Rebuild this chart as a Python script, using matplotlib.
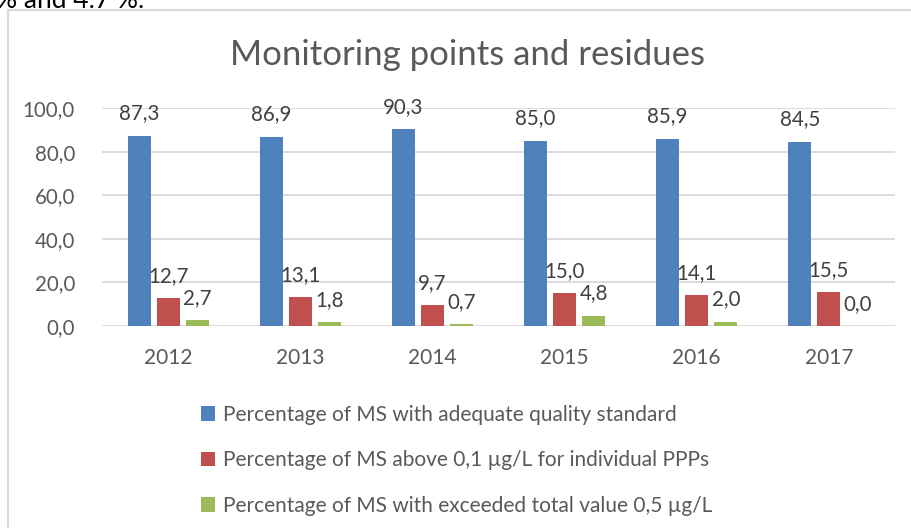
import matplotlib
matplotlib.use("Agg")
import matplotlib.pyplot as plt
import numpy as np
from matplotlib.patches import Rectangle

years = ["2012", "2013", "2014", "2015", "2016", "2017"]
adequate = [87.3, 86.9, 90.3, 85.0, 85.9, 84.5]
above_individual = [12.7, 13.1, 9.7, 15.0, 14.1, 15.5]
exceeded_total = [2.7, 1.8, 0.7, 4.8, 2.0, 0.0]
series_names = [
    "Percentage of MS with adequate quality standard",
    "Percentage of MS above 0,1 µg/L for individual PPPs",
    "Percentage of MS with exceeded total value 0,5 µg/L",
]
colors = ["#4F81BD", "#C0504D", "#9BBB59"]
yticks = [0, 20, 40, 60, 80, 100]

plt.rcParams['font.family'] = ['Lato', 'DejaVu Sans']
txt = "#595959"

W, H = 912, 528
fig = plt.figure(figsize=(W/100, H/100), dpi=100)
ax = fig.add_axes([102/W, 1-326/H, (895-102)/W, (326-108)/H])

x = np.arange(len(years))
bw = 0.174
step = 0.22
for i, (vals, c) in enumerate(zip([adequate, above_individual, exceeded_total], colors)):
    pos = x + (i-1)*step
    ax.bar(pos, vals, width=bw, color=c, label=series_names[i], zorder=3)
    for p, v in zip(pos, vals):
        ax.annotate(f"{v:.1f}".replace('.', ','), (p, v), xytext=(0, 16),
                    textcoords='offset points', ha='center', va='center',
                    fontsize=14.8, color="#404040", zorder=4)

ax.set_xlim(-0.5, len(years)-0.5)
ax.set_ylim(0, 100)
ax.set_yticks(yticks)
ax.set_yticklabels([f"{t:.1f}".replace('.', ',') for t in yticks], fontsize=14.8, color=txt)
ax.set_xticks(x)
ax.set_xticklabels(years, fontsize=15, color=txt)
ax.tick_params(length=0)
ax.tick_params(axis='y', pad=19.5)
ax.tick_params(axis='x', pad=16)
ax.grid(axis='y', color='#D9D9D9', linewidth=1.3, zorder=0)
for s in ax.spines.values():
    s.set_visible(False)

fig.text(467.5/W, 1-55/H, "Monitoring points and residues", ha='center', va='center',
         fontsize=25, color=txt)

# legend
handles, labels = ax.get_legend_handles_labels()
leg = fig.legend(handles, labels, loc='upper left', bbox_to_anchor=(182/W, 1-386/H),
                 frameon=False, fontsize=15, handlelength=0.7, handleheight=0.7,
                 handletextpad=0.35, labelspacing=1.22, labelcolor=txt)

# chart frame
fig.patches.append(Rectangle((8/W, -0.1), 1.2, 1 - 10/H + 0.1, transform=fig.transFigure,
                             fill=False, edgecolor='#D9D9D9', linewidth=1.5))

fig.text(-0.004, 1-8/H, "% and 4.7 %.", ha='left', va='baseline', fontsize=19, color='black')

fig.savefig("out.png", dpi=100)
